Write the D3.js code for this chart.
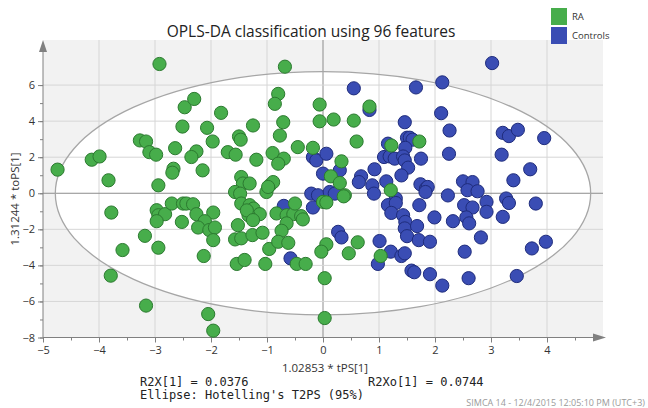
<!DOCTYPE html>
<html>
<head>
<meta charset="utf-8">
<script src="https://cdn.jsdelivr.net/npm/d3@7"></script>
<style>
  body { margin: 0; background: #fff; }
  text { font-family: "Open Sans", "Noto Sans", sans-serif; }
</style>
</head>
<body>
<svg id="chart" width="648" height="408"></svg>
<script>
// scores, [tPS, toPS]
var raScores = [
  [-2.92,7.17],[-2.47,4.77],[-2.51,3.70],[-3.27,2.93],[-3.16,2.87],[-2.64,2.50],[-3.10,2.28],[-2.98,2.14],
  [-4.13,1.86],[-3.99,2.04],[-4.74,1.31],[-3.83,0.72],[-2.67,1.36],[-2.69,1.14],[-2.94,0.44],
  [-0.68,7.02],[-0.80,5.51],[-0.86,4.96],[-2.30,5.23],[-1.82,4.46],[-0.06,4.92],[-0.06,3.99],[-2.07,3.63],
  [-1.25,3.76],[-0.71,3.94],[-0.77,3.20],[-1.50,3.15],[-1.47,2.97],[-1.97,2.87],[-2.26,2.32],[-2.35,2.01],
  [-1.70,2.28],[-1.56,2.14],[-1.19,1.86],[-0.90,2.23],[-0.70,1.92],[-0.80,1.64],[-0.45,2.56],[-0.18,2.52],
  [-2.15,1.27],[-1.46,0.90],[-1.43,0.54],[-1.31,0.54],[-1.57,0.07],[-1.48,-0.02],[-0.95,0.44],[-0.89,0.62],
  [-1.01,0.07],[-0.98,0.35],
  [0.83,4.81],[0.19,4.09],[0.55,4.03],[0.60,2.87],[1.72,2.87],[1.22,2.65],[0.33,1.77],[0.14,0.94],
  [0.30,0.57],[1.21,0.17],[0.39,-0.11],
  [-3.78,-1.07],[-2.97,-0.94],[-2.94,-1.22],[-2.82,-1.16],[-2.97,-1.55],[-2.70,-0.57],[-2.52,-1.59],
  [-2.50,-0.57],[-3.18,-2.36],[-3.58,-3.15],[-2.94,-3.02],[-3.79,-4.57],[-3.16,-6.23],
  [-2.44,-0.57],[-2.32,-0.61],[-2.26,-1.16],[-1.96,-1.07],[-2.11,-1.55],[-2.23,-1.90],[-2.03,-2.04],
  [-1.93,-1.90],[-1.96,-2.60],[-2.13,-3.48],[-1.46,-0.57],[-1.31,-0.66],[-1.24,-0.85],[-1.13,-1.16],
  [-1.33,-1.22],[-1.36,-0.95],[-1.25,-1.49],[-1.52,-1.77],[-1.57,-2.56],[-1.46,-2.50],[-1.26,-2.32],
  [-1.08,-2.19],[-1.54,-3.92],[-1.40,-3.70],[-1.03,-3.92],[-0.96,-3.09],[-0.83,-1.12],[-0.65,-1.22],
  [-0.53,-1.16],[-0.50,-0.57],[-0.39,-1.27],[-0.36,-1.45],[-0.65,-1.67],[-0.74,-2.08],[-0.80,-2.69],
  [-0.62,-2.75],[-0.47,-3.92],[-0.31,-3.92],[0.03,-4.71],[0.06,-2.83],[-0.03,-3.24],[0.03,-6.92],
  [-2.05,-6.70],[-1.96,-7.62],[0.00,-0.48],
  [0.06,-0.51],[0.37,-0.17],[0.62,-2.72],[0.46,-3.33],[1.03,-3.48]
];

var controlScores = [
  [-0.18,2.00],[-0.12,1.82],[-0.21,-0.02],[-0.09,-0.11],[-0.18,-0.79],[-0.70,-0.70],[-0.58,-3.61],
  [0.55,5.82],[1.66,5.87],[2.13,6.15],[0.83,4.62],[2.11,4.44],[2.26,3.48],[1.46,3.94],[1.50,3.08],
  [1.55,3.08],[1.60,2.97],[1.16,2.75],[1.47,2.52],[1.09,2.01],[1.19,2.04],[1.28,1.92],[1.43,2.04],
  [1.46,1.82],[1.52,1.42],[1.40,0.99],[1.75,1.92],[2.25,2.19],[0.06,2.19],[0.92,1.33],[0.30,1.27],
  [0.00,1.09],[0.68,0.94],[0.64,0.62],[0.88,0.44],[0.91,-0.02],[1.13,0.66],[1.30,-0.29],[1.74,0.50],
  [1.84,0.26],[1.87,0.35],[2.23,-0.12],[0.12,0.07],[0.21,-0.02],
  [3.02,7.22],[3.21,3.35],[3.32,3.17],[3.48,3.52],[3.95,3.06],[3.19,2.14],[3.70,1.33],[3.40,0.72],
  [2.50,0.66],[2.67,0.62],[2.58,0.17],[2.76,0.11],
  [1.16,-0.66],[1.30,-0.54],[1.22,-1.09],[1.43,-1.22],[1.47,-1.59],[1.46,-1.95],[1.50,-2.38],[1.68,-1.82],
  [1.72,-0.66],[1.83,0.07],[1.99,-1.34],[2.32,-1.55],[2.52,-0.66],[1.71,-2.60],[1.91,-2.69],[0.27,-2.14],
  [0.33,-2.45],[1.01,-2.65],[1.21,-3.24],[1.40,-3.48],[1.46,-3.33],[0.98,-3.92],[1.58,-4.29],[1.63,-4.38],
  [1.91,-4.49],[2.13,-5.12],
  [2.67,-0.79],[2.56,-1.34],[2.61,-1.67],[2.92,-0.48],[2.92,-1.03],[3.27,-0.29],[3.32,-0.54],[3.21,-1.31],
  [3.80,-0.57],[2.82,-2.45],[2.53,-3.24],[3.73,-3.06],[3.98,-2.69],[2.60,-4.71],[3.46,-4.59]
];

var xTicks = [-5, -4, -3, -2, -1, 0, 1, 2, 3, 4];
var yTicks = [-8, -6, -4, -2, 0, 2, 4, 6];
var groupNames = ["RA", "Controls"];
var groupFill = ["#47ad4b", "#3a4db4"];
var groupStroke = ["#2c7a30", "#1f2c7c"];
var ellipseRadii = [4.78, 6.75];

var svg = d3.select("#chart");

var x = d3.scaleLinear().domain([-5, 5]).range([43, 603]);
var y = d3.scaleLinear().domain([-8, 8.5]).range([337.5, 40]);

// plot background, grey outside the ellipse
svg.append("rect")
  .attr("x", x(-5)).attr("y", y(8.5))
  .attr("width", x(5) - x(-5)).attr("height", y(-8) - y(8.5))
  .attr("fill", "#f2f2f2");

svg.append("ellipse")
  .attr("cx", x(0)).attr("cy", y(0))
  .attr("rx", x(ellipseRadii[0]) - x(0))
  .attr("ry", y(0) - y(ellipseRadii[1]))
  .attr("fill", "#fff");

// grid
var grid = svg.append("g");
grid.selectAll("line.v")
  .data(xTicks.filter(function(d){ return d > -5; }))
  .enter().append("line")
  .attr("x1", function(d){ return x(d); }).attr("x2", function(d){ return x(d); })
  .attr("y1", y(8.5)).attr("y2", y(-8))
  .attr("stroke", function(d){ return d === 0 ? "#8c8c8c" : "#d6d6d6"; })
  .attr("stroke-width", 1);
grid.selectAll("line.h")
  .data(yTicks.filter(function(d){ return d > -8; }))
  .enter().append("line")
  .attr("y1", function(d){ return y(d); }).attr("y2", function(d){ return y(d); })
  .attr("x1", x(-5)).attr("x2", x(5))
  .attr("stroke", function(d){ return d === 0 ? "#8c8c8c" : "#d6d6d6"; })
  .attr("stroke-width", 1);

svg.append("ellipse")
  .attr("cx", x(0)).attr("cy", y(0))
  .attr("rx", x(ellipseRadii[0]) - x(0))
  .attr("ry", y(0) - y(ellipseRadii[1]))
  .attr("fill", "none")
  .attr("stroke", "#a6a6a6")
  .attr("stroke-width", 1.3);

// axes
function styleAxis(g) {
  g.select(".domain").remove();
  g.selectAll("line").attr("stroke", "#808080");
  g.selectAll("text").attr("fill", "#333").style("font-size", "11px");
}

var yMinor = d3.range(-8, 7, 1);
svg.append("g")
  .attr("transform", "translate(" + x(-5) + ",0)")
  .call(d3.axisLeft(y).tickValues(yMinor).tickSize(3).tickFormat(""))
  .call(styleAxis);
svg.append("g")
  .attr("transform", "translate(" + x(-5) + ",0)")
  .call(d3.axisLeft(y).tickValues(yTicks).tickSize(5).tickPadding(3))
  .call(styleAxis);

var xMinor = d3.range(-5, 5, 0.5);
svg.append("g")
  .attr("transform", "translate(0," + y(-8) + ")")
  .call(d3.axisBottom(x).tickValues(xMinor).tickSize(3).tickFormat(""))
  .call(styleAxis);
svg.append("g")
  .attr("transform", "translate(0," + y(-8) + ")")
  .call(d3.axisBottom(x).tickValues(xTicks).tickSize(5).tickPadding(4))
  .call(styleAxis);

// axis lines with arrow heads
svg.append("line")
  .attr("x1", x(-5)).attr("x2", x(-5)).attr("y1", y(-8)).attr("y2", y(8.5) + 6)
  .attr("stroke", "#808080");
svg.append("path")
  .attr("d", "M" + (x(-5) - 4) + "," + (y(8.5) + 12) + "L" + x(-5) + "," + y(8.5) + "L" + (x(-5) + 4) + "," + (y(8.5) + 12) + "Z")
  .attr("fill", "#808080");
svg.append("line")
  .attr("x1", x(-5)).attr("x2", x(5) - 4).attr("y1", y(-8)).attr("y2", y(-8))
  .attr("stroke", "#808080");
svg.append("path")
  .attr("d", "M" + (x(5) - 10) + "," + (y(-8) - 4) + "L" + (x(5) + 3) + "," + y(-8) + "L" + (x(5) - 10) + "," + (y(-8) + 4) + "Z")
  .attr("fill", "#808080");

// points: controls first, RA drawn on top
var series = [controlScores, raScores];
var seriesIdx = [1, 0];
series.forEach(function(pts, i) {
  var k = seriesIdx[i];
  svg.append("g").selectAll("circle")
    .data(pts)
    .enter().append("circle")
    .attr("cx", function(d){ return x(d[0]); })
    .attr("cy", function(d){ return y(d[1]); })
    .attr("r", 6.6)
    .attr("fill", groupFill[k])
    .attr("stroke", groupStroke[k])
    .attr("stroke-width", 1);
});

// title
svg.append("text")
  .attr("x", 311).attr("y", 37)
  .attr("text-anchor", "middle")
  .style("font-size", "15.5px")
  .attr("fill", "#222")
  .text("OPLS-DA classification using 96 features");

// legend
var legend = svg.append("g").attr("transform", "translate(551,8)");
groupNames.forEach(function(name, i) {
  legend.append("rect")
    .attr("x", 0).attr("y", i * 19)
    .attr("width", 16).attr("height", 17)
    .attr("fill", groupFill[i]);
  legend.append("text")
    .attr("x", 21).attr("y", i * 19 + 12)
    .style("font-size", "9.5px")
    .attr("fill", "#333")
    .text(name);
});

// axis titles
svg.append("text")
  .attr("x", 325).attr("y", 372)
  .attr("text-anchor", "middle")
  .style("font-size", "11.5px")
  .attr("fill", "#333")
  .text("1.02853 * tPS[1]");

svg.append("text")
  .attr("transform", "translate(19,199) rotate(-90)")
  .attr("text-anchor", "middle")
  .style("font-size", "11.5px")
  .attr("fill", "#333")
  .text("1.31244 * toPS[1]");

// statistics
var mono = "'DejaVu Sans Mono', 'Liberation Mono', monospace";
svg.append("text").attr("x", 140).attr("y", 386)
  .style("font-family", mono).style("font-size", "12px").attr("fill", "#222")
  .text("R2X[1] = 0.0376");
svg.append("text").attr("x", 368).attr("y", 386)
  .style("font-family", mono).style("font-size", "12px").attr("fill", "#222")
  .text("R2Xo[1] = 0.0744");
svg.append("text").attr("x", 140).attr("y", 399)
  .style("font-family", mono).style("font-size", "12px").attr("fill", "#222")
  .text("Ellipse: Hotelling's T2PS (95%)");

svg.append("text").attr("x", 645).attr("y", 406)
  .attr("text-anchor", "end")
  .style("font-size", "9px").attr("fill", "#9a9a9a")
  .text("SIMCA 14 - 12/4/2015 12:05:10 PM (UTC+3)");
</script>
</body>
</html>
